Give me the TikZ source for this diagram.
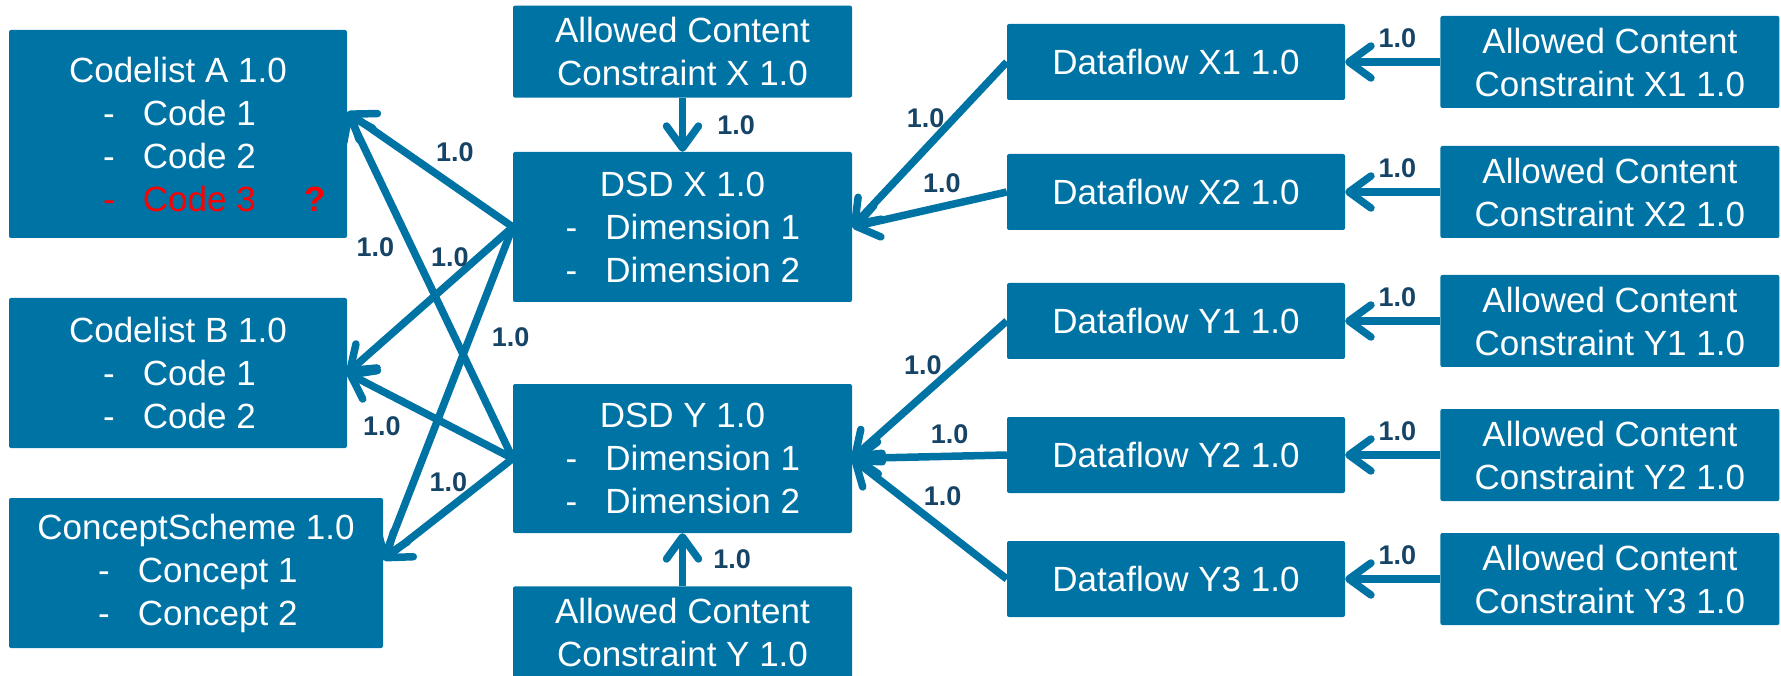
\documentclass[tikz,border=0pt]{standalone}
\usepackage{fontspec}
\setmainfont{Liberation Sans}
\usepackage{tikz}
\usetikzlibrary{arrows.meta,positioning}
\definecolor{sdmxblue}{RGB}{0,115,165}
\definecolor{versionnavy}{RGB}{22,68,102}
\tikzstyle{artefact}=[fill=sdmxblue, rounded corners=2pt, text=white, align=center, inner sep=0pt, font=\fontsize{35}{43}\selectfont]
\tikzstyle{acc}=[artefact, minimum width=339pt, minimum height=92pt]
\tikzstyle{flow}=[artefact, minimum width=338pt, minimum height=76pt]
\tikzstyle{refarrow}=[color=sdmxblue, line width=7.5pt, -{Straight Barb[length=22pt,width=32pt,round]}]
\tikzstyle{version}=[font=\fontsize{27}{27}\selectfont\bfseries, text=versionnavy, inner sep=0pt]
\newcommand{\entry}[2][150pt]{\makebox[#1][l]{\makebox[40pt][l]{-}#2}}

\begin{document}
\begin{tikzpicture}[x=1pt,y=-1pt]
    \useasboundingbox (0,0) rectangle (1781,676);

    \node (cla) [artefact, minimum width=338pt, minimum height=208pt] at (178,134)
        {Codelist A 1.0\\ \entry{Code 1}\\ \entry{Code 2}\\ {\color{red}\entry{Code 3}}\rlap{\hspace{51pt}\color{red}\textbf{?}}};
    \node (clb) [artefact, minimum width=338pt, minimum height=150pt] at (178,373)
        {Codelist B 1.0\\ \entry{Code 1}\\ \entry{Code 2}};
    \node (cs) [artefact, minimum width=374pt, minimum height=150pt] at (196,573)
        {ConceptScheme 1.0\\ \entry[196pt]{Concept 1}\\ \entry[196pt]{Concept 2}};

    \node (dsdx) [artefact, minimum width=339pt, minimum height=150pt] at (682.5,227)
        {DSD X 1.0\\ \entry[234pt]{Dimension 1}\\ \entry[234pt]{Dimension 2}};
    \node (dsdy) [artefact, minimum width=339pt, minimum height=149pt] at (682.5,458.5)
        {DSD Y 1.0\\ \entry[234pt]{Dimension 1}\\ \entry[234pt]{Dimension 2}};
    \node (accx) [acc] [above=54pt of dsdx] {Allowed Content\\ Constraint X 1.0};
    \node (accy) [acc] [below=53pt of dsdy] {Allowed Content\\ Constraint Y 1.0};

    \node (dfx1) [flow] at (1176,62) {Dataflow X1 1.0};
    \node (dfx2) [flow] at (1176,192) {Dataflow X2 1.0};
    \node (dfy1) [flow] at (1176,321) {Dataflow Y1 1.0};
    \node (dfy2) [flow] at (1176,455) {Dataflow Y2 1.0};
    \node (dfy3) [flow] at (1176,579) {Dataflow Y3 1.0};
    \node (accx1) [acc] [right=95pt of dfx1] {Allowed Content\\ Constraint X1 1.0};
    \node (accx2) [acc] [right=95pt of dfx2] {Allowed Content\\ Constraint X2 1.0};
    \node (accy1) [acc] [right=95pt of dfy1] {Allowed Content\\ Constraint Y1 1.0};
    \node (accy2) [acc] [right=95pt of dfy2] {Allowed Content\\ Constraint Y2 1.0};
    \node (accy3) [acc] [right=95pt of dfy3] {Allowed Content\\ Constraint Y3 1.0};

    \path[refarrow] (accx) edge node[version, right=31pt] (v1) {1.0} (dsdx);
    \path[refarrow] (accy) edge node[version, right=27pt] (v2) {1.0} (dsdy);

    \path[refarrow] (dsdx.west) edge node[version, pos=0.35, above=21pt] (v3) {1.0} ([yshift=22pt]cla.east);
    \path[refarrow] (dsdy.west) edge node[version, pos=0.61, left=14pt] (v4) {1.0} ([yshift=22pt]cla.east);
    \path[refarrow] (dsdx.west) edge node[version, pos=0.38, above=12pt] (v5) {1.0} (clb.east);
    \path[refarrow] (dsdy.west) edge node[version, pos=0.79, below=22pt] (v6) {1.0} (clb.east);
    \path[refarrow] (dsdx.west) edge node[version, pos=0.33, right=18pt] (v7) {1.0} ([yshift=13pt]cs.east);
    \path[refarrow] (dsdy.west) edge node[version, pos=0.23, left=12pt] (v8) {1.0} ([yshift=13pt]cs.east);

    \path[refarrow] (dfx1.west) edge node[version, pos=0.34, left=6pt] (v9) {1.0} (dsdx.east);
    \path[refarrow] (dfx2.west) edge node[version, pos=0.42, above=10pt] (v10) {1.0} (dsdx.east);
    \path[refarrow] (dfy1.west) edge node[version, pos=0.32, left=12pt] (v11) {1.0} (dsdy.east);
    \path[refarrow] (dfy2.west) edge node[version, pos=0.37, above=9pt] (v12) {1.0} (dsdy.east);
    \path[refarrow] (dfy3.west) edge node[version, pos=0.69, right=20pt] (v13) {1.0} (dsdy.east);

    \path[refarrow] (accx1) edge node[version, pos=0.45, above=10pt] (v14) {1.0} (dfx1);
    \path[refarrow] (accx2) edge node[version, pos=0.45, above=10pt] (v15) {1.0} (dfx2);
    \path[refarrow] (accy1) edge node[version, pos=0.45, above=10pt] (v16) {1.0} (dfy1);
    \path[refarrow] (accy2) edge node[version, pos=0.45, above=10pt] (v17) {1.0} (dfy2);
    \path[refarrow] (accy3) edge node[version, pos=0.45, above=10pt] (v18) {1.0} (dfy3);
\end{tikzpicture}
\end{document}
